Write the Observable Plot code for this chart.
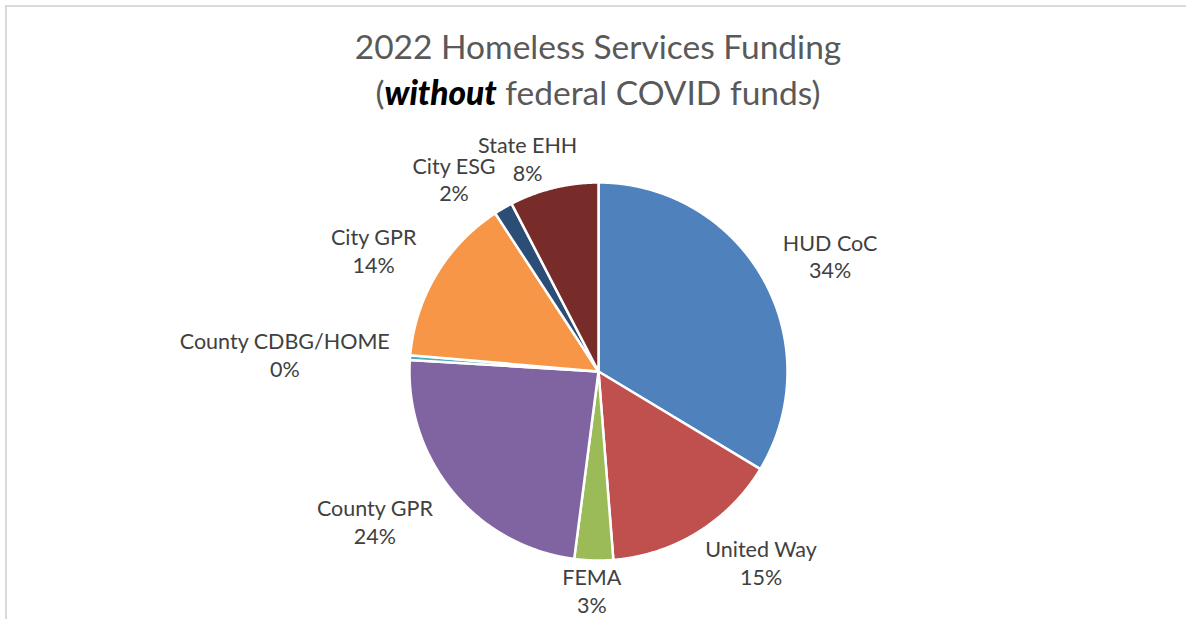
<!DOCTYPE html>
<html>
<head>
<meta charset="utf-8">
<script src="https://cdn.jsdelivr.net/npm/d3@7"></script>
<script src="https://cdn.jsdelivr.net/npm/@observablehq/plot@0.6"></script>
<style>
  html, body { margin: 0; padding: 0; background: #fff; overflow: hidden; width: 1186px; height: 619px; }
  #frame { position: absolute; left: 5px; top: 5px; width: 1400px; height: 800px;
           border-top: 2px solid #d9d9d9; border-left: 2px solid #d9d9d9; pointer-events: none; }
  #title { width: 1196px; height: 118px; box-sizing: border-box; padding-top: 23px;
           text-align: center; font-family: Lato, "Open Sans", sans-serif; font-size: 33.5px;
           color: #595959; }
  #title div { line-height: 46px; height: 46px; white-space: nowrap; }
  #title b { color: #000; font-style: italic; font-weight: 900; }
  #chart { position: relative; }
</style>
</head>
<body>
<div id="frame"></div>
<div id="title">
  <div>2022 Homeless Services Funding</div>
  <div>(<b>without</b> federal COVID funds)</div>
</div>
<div id="chart"></div>
<script>
const categories = ["HUD CoC", "United Way", "FEMA", "County GPR", "County CDBG/HOME", "City GPR", "City ESG", "State EHH"];
const values = [33.6, 15.1, 3.3, 23.9, 0.4, 14.4, 1.6, 7.6];
const colors = ["#4F81BD", "#C0504D", "#9BBB59", "#8064A2", "#4BACC6", "#F79646", "#2C4D75", "#772C2A"];

const rows = categories.map((name, i) => ({name, value: values[i]}));
const total = d3.sum(values);
const arcs = d3.pie().sort(null).value(d => d.value)(rows);

// polygon points for each slice (unit radius, y up, angle clockwise from 12 o'clock)
const slicePts = [];
for (const a of arcs) {
  const name = a.data.name;
  slicePts.push({name, x: 0, y: 0});
  const step = Math.PI / 720;
  for (let t = a.startAngle; t < a.endAngle; t += step) slicePts.push({name, x: Math.sin(t), y: Math.cos(t)});
  slicePts.push({name, x: Math.sin(a.endAngle), y: Math.cos(a.endAngle)});
  slicePts.push({name, x: 0, y: 0});
}

// label placement outside each slice ("outside end" style: box anchored on the ray)
const R = 189, fontSize = 21.5, lineH = 28;
const ctx = document.createElement("canvas").getContext("2d");
ctx.font = `${fontSize}px Lato`;
const clamp = v => Math.max(-1, Math.min(1, v));
const labels = arcs.map(a => {
  const name = a.data.name;
  const pct = Math.round(a.data.value / total * 100) + "%";
  const mid = (a.startAngle + a.endAngle) / 2;
  const ux = Math.sin(mid), uy = Math.cos(mid);
  const w1 = ctx.measureText(name).width, w2 = ctx.measureText(pct).width;
  const hw = Math.max(w1, w2) / 2 + 18;
  const px = (R + 2) * ux + hw * clamp(1.6 * ux);
  const py = (R + 2) * uy + lineH * clamp(1.6 * uy);
  return {name, text: `${name}\n${pct}`, mid, w1, w2, px, py};
});

// simple collision avoidance: slide a label counterclockwise while its lines overlap a placed label
function lineBoxes(l) {
  return [
    {x0: l.px - l.w1 / 2, x1: l.px + l.w1 / 2, y0: l.py + lineH / 2 - 10, y1: l.py + lineH / 2 + 10},
    {x0: l.px - l.w2 / 2, x1: l.px + l.w2 / 2, y0: l.py - lineH / 2 - 10, y1: l.py - lineH / 2 + 10}
  ];
}
const overlaps = (a, b) => lineBoxes(a).some(p => lineBoxes(b).some(q =>
  p.x0 < q.x1 + 4 && q.x0 < p.x1 + 4 && p.y0 < q.y1 && q.y0 < p.y1));
const placed = [];
for (const l of labels.slice().reverse()) {
  let n = 0;
  while (placed.some(p => overlaps(l, p)) && n++ < 40) {
    l.px -= 2 * Math.cos(l.mid);
    l.py += 2 * Math.sin(l.mid);
  }
  placed.push(l);
}
for (const l of labels) { l.x = l.px / R; l.y = l.py / R; }

const cx = 598, cy = 253;
const chart = Plot.plot({
  width: 1186,
  height: 501,
  margin: 0,
  style: {background: "transparent", overflow: "visible"},
  x: {domain: [-1, 1], range: [cx - R, cx + R], axis: null},
  y: {domain: [-1, 1], range: [cy + R, cy - R], axis: null},
  color: {domain: categories, range: colors},
  marks: [
    Plot.line(slicePts, {x: "x", y: "y", z: "name", fill: "name", stroke: "white", strokeWidth: 2.5, strokeLinejoin: "round"}),
    Plot.text(labels, {x: "x", y: "y", text: "text", fill: "#404040", fontSize: fontSize,
      fontFamily: "Lato", lineHeight: lineH / fontSize, textAnchor: "middle", lineAnchor: "middle"})
  ]
});
document.getElementById("chart").appendChild(chart);
</script>
</body>
</html>
